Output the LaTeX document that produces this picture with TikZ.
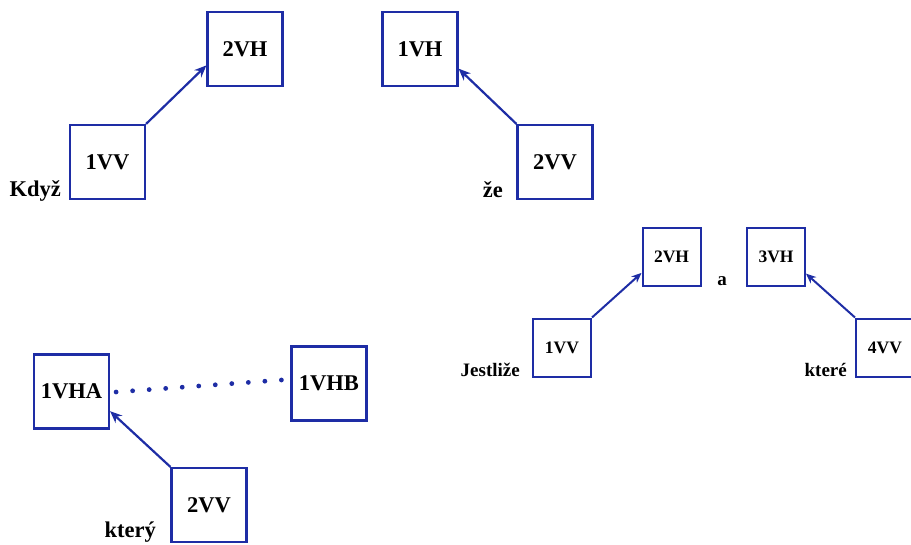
\documentclass[tikz,border=0pt]{standalone}
\usepackage{fontspec}
\setmainfont{Liberation Serif}
\usetikzlibrary{arrows.meta,calc}
\definecolor{boxblue}{RGB}{30,45,165}
\begin{document}
\begin{tikzpicture}[x=1pt,y=-1pt,
  bigbox/.style={draw=boxblue,line width=2.2pt,minimum width=75pt,minimum height=74pt,inner sep=0pt,font=\fontsize{22.5}{26}\selectfont\bfseries},
  smallbox/.style={draw=boxblue,line width=2pt,minimum width=58pt,minimum height=58pt,inner sep=0pt,font=\fontsize{17.5}{20}\selectfont\bfseries},
  biglabel/.style={anchor=base east,inner sep=0pt,font=\fontsize{22.5}{26}\selectfont\bfseries},
  smalllabel/.style={anchor=base east,inner sep=0pt,font=\fontsize{19}{22}\selectfont\bfseries},
  link/.style={draw=boxblue,line width=2.2pt,-{Stealth[length=12pt,width=10pt]}},
  smalllink/.style={draw=boxblue,line width=2pt,-{Stealth[length=10pt,width=8.5pt]}},
  dotmark/.style={fill=boxblue}]
\useasboundingbox (0,0) rectangle (911,544);
% group 1
\node[bigbox] (a1) at (107.5,162) {1VV};
\node[bigbox] (a2) at (245,49) {2VH};
\node[biglabel] (a3) at (61,196) {Když};
\draw[link] (a1.north east) -- (a2.203);
% group 2
\node[bigbox] (b1) at (420,49) {1VH};
\node[bigbox] (b2) at (555,162) {2VV};
\node[biglabel] (b3) at (503,197) {že};
\draw[link] (b2.north west) -- (b1.333);
% group 3
\node[smallbox] (c1) at (562,347.5) {1VV};
\node[smallbox] (c2) at (671.5,257) {2VH};
\node[smallbox] (c3) at (776,257) {3VH};
\node[smallbox] (c4) at (885,347.5) {4VV};
\node[smalllabel] (c5) at (520,376) {Jestliže};
\node[smalllabel] (c6) at (847,376) {které};
\node[smalllabel,anchor=base] (c7) at (722,285) {a};
\draw[smalllink] (c1.north east) -- (c2.208);
\draw[smalllink] (c4.north west) -- (c3.331);
% group 4
\node[bigbox] (d1) at (71.5,391.5) {1VHA};
\node[bigbox] (d2) at (329,383.5) {1VHB};
\node[bigbox] (d3) at (209,505) {2VV};
\node[biglabel] (d4) at (156,537) {který};
\coordinate (p) at ($(d1.east)+(6,0.5)$);
\coordinate (q) at ($(d2.west)+(-9,-3.5)$);
\foreach \t in {0,1,...,10} \fill[dotmark] ($(p)!\t/10!(q)$) circle (2.4pt);
\draw[link] (d3.north west) -- (d1.333);
\end{tikzpicture}
\end{document}
